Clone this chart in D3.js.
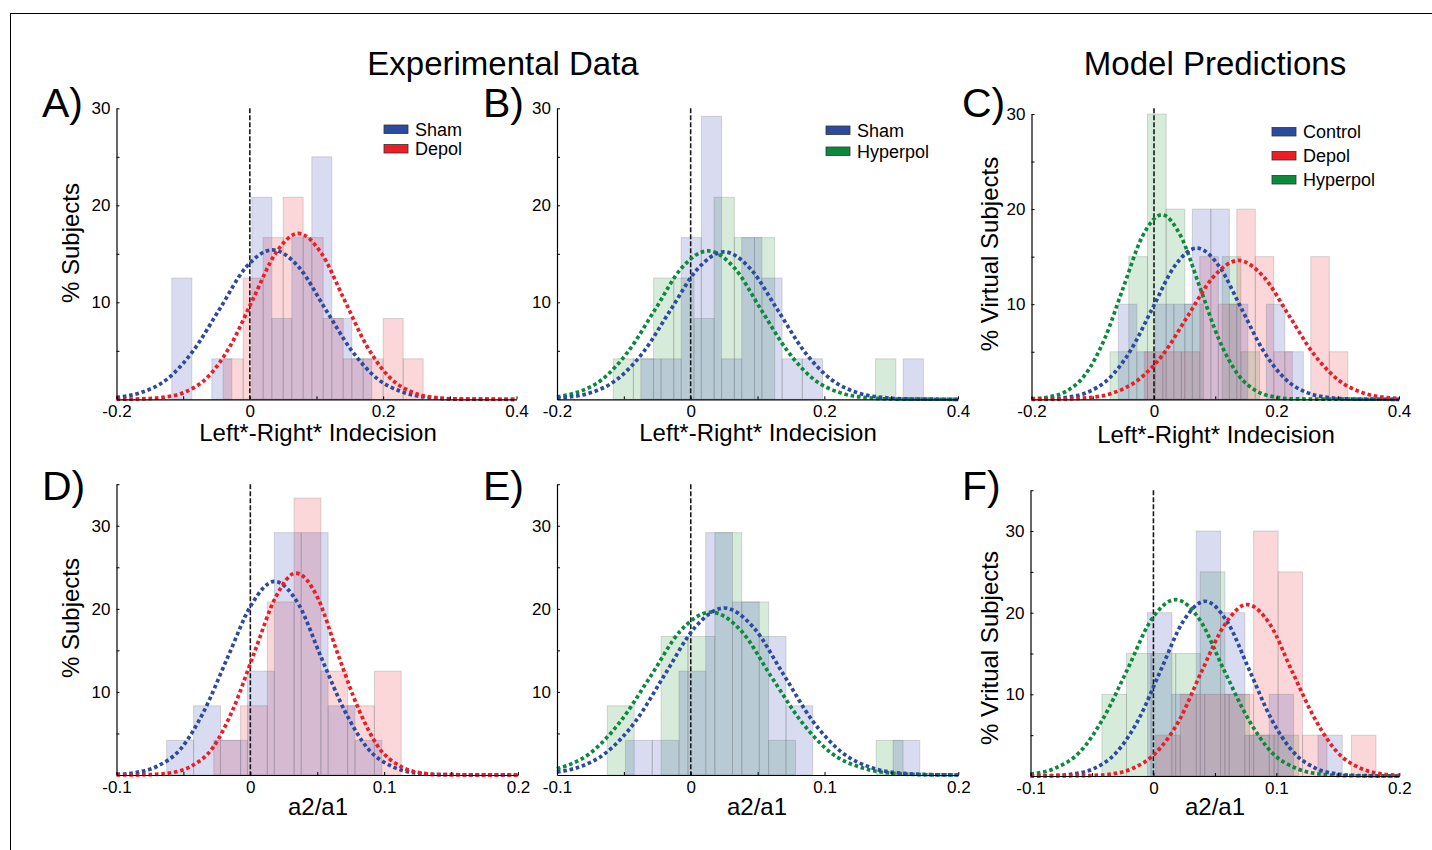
<!DOCTYPE html>
<html>
<head>
<meta charset="utf-8">
<script src="https://cdn.jsdelivr.net/npm/d3@7"></script>
<style>
  body { margin: 0; background: #fff; }
  svg { display: block; font-family: "Liberation Sans", Arial, Helvetica, sans-serif; }
</style>
</head>
<body>
<svg id="fig" width="1432" height="850"></svg>
<script>
// ---- tick values ----
const xMarksTop = [-0.2, -0.1, 0, 0.1, 0.2, 0.3, 0.4];
const xLabelsTop = [-0.2, 0, 0.2, 0.4];
const xMarksBottom = [-0.1, -0.05, 0, 0.05, 0.1, 0.15, 0.2];
const xLabelsBottom = [-0.1, 0, 0.1, 0.2];
const yMarksTop = [5, 10, 15, 20, 25, 30];
const yMarksBottom = [5, 10, 15, 20, 25, 30, 35];
const yLabels = [10, 20, 30];

// ---- histograms: [first bin edge, bin width] and % per bin ----
// A) Sham vs Depol, indecision
const aShamBin = [-0.117, 0.03];
const aShamPct = [12.5, 0, 4.17, 0, 20.83, 8.33, 16.67, 25, 8.33, 4.17];
const aDepolBin = [-0.04, 0.03];
const aDepolPct = [4.17, 12.5, 16.67, 20.83, 16.67, 8.33, 4.17, 4.17, 8.33, 4.17];
// B) Sham vs Hyperpol, indecision
const bShamBin = [-0.0746, 0.0302];
const bShamPct = [4.17, 4.17, 16.67, 29.17, 4.17, 16.67, 12.5, 4.17, 4.17, 0, 0, 0, 0, 4.17];
const bHyperBin = [-0.1159, 0.0302];
const bHyperPct = [4.17, 4.17, 12.5, 12.5, 8.33, 20.83, 16.67, 16.67, 0, 0, 0, 0, 0, 4.17];
// C) model, indecision
const cControlBin = [-0.0582, 0.0302];
const cControlPct = [10, 5, 10, 10, 20, 20, 10, 0, 10, 5];
const cDepolBin = [-0.0158, 0.0302];
const cDepolPct = [5, 5, 5, 15, 10, 20, 15, 5, 0, 15, 5];
const cHyperBin = [-0.0717, 0.0305];
const cHyperPct = [5, 15, 30, 20, 10, 0, 15, 5];
// D) Sham vs Depol, a2/a1
const dShamBin = [-0.0625, 0.0201];
const dShamPct = [4.17, 8.33, 4.17, 12.5, 29.17, 29.17, 8.33, 4.17];
const dDepolBin = [-0.0273, 0.02];
const dDepolPct = [4.17, 8.33, 20.83, 33.33, 12.5, 8.33, 12.5];
// E) Sham vs Hyperpol, a2/a1
const eShamBin = [-0.0488, 0.02];
const eShamPct = [4.17, 4.17, 12.5, 29.17, 20.83, 16.67, 8.33, 0, 0, 0, 4.17];
const eHyperBin = [-0.0624, 0.0201];
const eHyperPct = [8.33, 0, 16.67, 16.67, 29.17, 20.83, 4.17, 0, 0, 0, 4.17];
// F) model, a2/a1
const fControlBin = [-0.0048, 0.0198];
const fControlPct = [20, 10, 30, 20, 5, 10, 0, 5];
const fDepolBin = [0.0019, 0.0199];
const fDepolPct = [5, 10, 10, 10, 30, 25, 5, 0, 5];
const fHyperBin = [-0.0419, 0.02];
const fHyperPct = [10, 15, 15, 15, 25, 10, 5, 5];

// ---- fitted curves, points [x, %] ----
const aShamFit = [[-0.2,0.19],[-0.164,0.68],[-0.124,2.08],[-0.085,5.0],[-0.045,9.34],[-0.006,13.59],[0.034,15.4],[0.074,13.59],[0.113,9.34],[0.153,5.0],[0.192,2.08],[0.232,0.68],[0.271,0.17],[0.311,0.03],[0.4,0]];
const aDepolFit = [[-0.2,0],[-0.165,0.04],[-0.131,0.19],[-0.097,0.75],[-0.063,2.31],[-0.029,5.55],[0.005,10.37],[0.039,15.09],[0.073,17.1],[0.107,15.09],[0.141,10.37],[0.175,5.55],[0.209,2.31],[0.243,0.75],[0.277,0.19],[0.311,0.04],[0.4,0]];
const bShamFit = [[-0.2,0.12],[-0.15,0.67],[-0.11,2.06],[-0.07,4.94],[-0.03,9.22],[0.01,13.41],[0.05,15.2],[0.09,13.41],[0.13,9.22],[0.17,4.94],[0.21,2.06],[0.25,0.67],[0.29,0.17],[0.33,0.03],[0.4,0]];
const bHyperFit = [[-0.2,0.26],[-0.172,0.67],[-0.132,2.07],[-0.093,4.97],[-0.053,9.28],[-0.014,13.5],[0.026,15.3],[0.066,13.5],[0.105,9.28],[0.145,4.97],[0.184,2.07],[0.224,0.67],[0.263,0.17],[0.303,0.03],[0.4,0]];
const cControlFit = [[-0.2,0.01],[-0.182,0.03],[-0.146,0.18],[-0.11,0.7],[-0.074,2.15],[-0.038,5.16],[-0.002,9.64],[0.034,14.03],[0.07,15.9],[0.106,14.03],[0.142,9.64],[0.178,5.16],[0.214,2.15],[0.25,0.7],[0.286,0.18],[0.322,0.03],[0.4,0]];
const cDepolFit = [[-0.2,0],[-0.15,0.03],[-0.109,0.16],[-0.068,0.64],[-0.027,1.98],[0.015,4.74],[0.056,8.85],[0.097,12.88],[0.138,14.6],[0.179,12.88],[0.22,8.85],[0.261,4.74],[0.302,1.98],[0.343,0.64],[0.384,0.16],[0.4,0.09]];
const cHyperFit = [[-0.2,0.05],[-0.174,0.22],[-0.143,0.85],[-0.112,2.62],[-0.081,6.3],[-0.05,11.77],[-0.019,17.12],[0.013,19.4],[0.044,17.12],[0.075,11.77],[0.106,6.3],[0.137,2.62],[0.168,0.85],[0.199,0.22],[0.23,0.04],[0.4,0]];
const dShamFit = [[-0.1,0.08],[-0.087,0.26],[-0.07,1.02],[-0.052,3.15],[-0.035,7.57],[-0.017,14.13],[0.001,20.56],[0.018,23.3],[0.036,20.56],[0.053,14.13],[0.071,7.57],[0.088,3.15],[0.106,1.02],[0.123,0.26],[0.141,0.05],[0.2,0]];
const dDepolFit = [[-0.1,0],[-0.075,0.05],[-0.059,0.27],[-0.044,1.07],[-0.028,3.29],[-0.013,7.89],[0.003,14.74],[0.019,21.44],[0.034,24.3],[0.05,21.44],[0.065,14.74],[0.081,7.89],[0.096,3.29],[0.112,1.07],[0.127,0.27],[0.143,0.05],[0.2,0]];
const eShamFit = [[-0.1,0.36],[-0.085,0.88],[-0.063,2.72],[-0.041,6.53],[-0.019,12.19],[0.003,17.74],[0.025,20.1],[0.047,17.74],[0.069,12.19],[0.091,6.53],[0.113,2.72],[0.135,0.88],[0.157,0.22],[0.179,0.04],[0.2,0]];
const eHyperFit = [[-0.1,0.74],[-0.075,2.65],[-0.053,6.36],[-0.03,11.89],[-0.008,17.3],[0.015,19.6],[0.038,17.3],[0.06,11.89],[0.083,6.36],[0.105,2.65],[0.128,0.86],[0.15,0.22],[0.173,0.04],[0.2,0]];
const fControlFit = [[-0.1,0.01],[-0.084,0.05],[-0.066,0.24],[-0.048,0.94],[-0.03,2.9],[-0.012,6.95],[0.006,12.98],[0.024,18.89],[0.042,21.4],[0.06,18.89],[0.078,12.98],[0.096,6.95],[0.114,2.9],[0.132,0.94],[0.15,0.24],[0.168,0.05],[0.2,0]];
const fDepolFit = [[-0.1,0],[-0.054,0.05],[-0.035,0.23],[-0.017,0.92],[0.002,2.84],[0.021,6.82],[0.039,12.74],[0.058,18.53],[0.076,21.0],[0.095,18.53],[0.113,12.74],[0.132,6.82],[0.15,2.84],[0.169,0.92],[0.187,0.23],[0.2,0.08]];
const fHyperFit = [[-0.1,0.22],[-0.08,0.95],[-0.06,2.92],[-0.041,7.01],[-0.021,13.1],[-0.002,19.06],[0.018,21.6],[0.038,19.06],[0.057,13.1],[0.077,7.01],[0.096,2.92],[0.116,0.95],[0.135,0.24],[0.155,0.05],[0.2,0]];

// colours
const blue = "#2c4b9f", red = "#ee1c25", green = "#0b8a3e";
const blueFill = "rgb(55,64,182)", redFill = "rgb(232,40,52)", greenFill = "rgb(40,150,60)";

const indecision = "Left*-Right* Indecision";

// bars listed bottom-to-top: green, red, blue
const panels = [
  { label: "A)", lx: 42, ly: 117, box: [116.5, 516.5, 108.3, 399.3], xDomain: [-0.2, 0.4], yMax: 30, zeroTop: 30,
    xMarks: xMarksTop, xLabels: xLabelsTop, yMarks: yMarksTop,
    bars: [[aDepolBin, aDepolPct, redFill], [aShamBin, aShamPct, blueFill]],
    fits: [[aShamFit, blue], [aDepolFit, red]],
    legend: { x: 384, y: 125, gap: 19.5, items: [["Sham", blue], ["Depol", red]] },
    xTitle: indecision, xtX: 318, xtY: 441, yTitle: "% Subjects", ytX: 79, ytY: 243 },
  { label: "B)", lx: 483, ly: 117, box: [557, 958, 108.3, 399.3], xDomain: [-0.2, 0.4], yMax: 30, zeroTop: 30,
    xMarks: xMarksTop, xLabels: xLabelsTop, yMarks: yMarksTop,
    bars: [[bHyperBin, bHyperPct, greenFill], [bShamBin, bShamPct, blueFill]],
    fits: [[bHyperFit, green], [bShamFit, blue]],
    legend: { x: 826, y: 126, gap: 21, items: [["Sham", blue], ["Hyperpol", green]] },
    xTitle: indecision, xtX: 758, xtY: 441, yTitle: null },
  { label: "C)", lx: 962, ly: 117, box: [1031.5, 1399, 114, 399.3], xDomain: [-0.2, 0.4], yMax: 30, zeroTop: 30.6,
    xMarks: xMarksTop, xLabels: xLabelsTop, yMarks: yMarksTop,
    bars: [[cHyperBin, cHyperPct, greenFill], [cDepolBin, cDepolPct, redFill], [cControlBin, cControlPct, blueFill]],
    fits: [[cHyperFit, green], [cControlFit, blue], [cDepolFit, red]],
    legend: { x: 1272, y: 127.5, gap: 24, items: [["Control", blue], ["Depol", red], ["Hyperpol", green]] },
    xTitle: indecision, xtX: 1216, xtY: 443, yTitle: "% Virtual Subjects", ytX: 998, ytY: 254 },
  { label: "D)", lx: 42, ly: 500, box: [116.5, 518, 484.2, 775], xDomain: [-0.1, 0.2], yMax: 35, zeroTop: 35,
    xMarks: xMarksBottom, xLabels: xLabelsBottom, yMarks: yMarksBottom,
    bars: [[dDepolBin, dDepolPct, redFill], [dShamBin, dShamPct, blueFill]],
    fits: [[dShamFit, blue], [dDepolFit, red]],
    legend: null,
    xTitle: "a2/a1", xtX: 318, xtY: 815, yTitle: "% Subjects", ytX: 79, ytY: 618 },
  { label: "E)", lx: 483, ly: 500, box: [557, 958.3, 484.2, 775], xDomain: [-0.1, 0.2], yMax: 35, zeroTop: 35,
    xMarks: xMarksBottom, xLabels: xLabelsBottom, yMarks: yMarksBottom,
    bars: [[eHyperBin, eHyperPct, greenFill], [eShamBin, eShamPct, blueFill]],
    fits: [[eHyperFit, green], [eShamFit, blue]],
    legend: null,
    xTitle: "a2/a1", xtX: 757, xtY: 815, yTitle: null },
  { label: "F)", lx: 962, ly: 500, box: [1030.5, 1399.3, 490.2, 776], xDomain: [-0.1, 0.2], yMax: 35, zeroTop: 35,
    xMarks: xMarksBottom, xLabels: xLabelsBottom, yMarks: yMarksBottom,
    bars: [[fHyperBin, fHyperPct, greenFill], [fDepolBin, fDepolPct, redFill], [fControlBin, fControlPct, blueFill]],
    fits: [[fHyperFit, green], [fControlFit, blue], [fDepolFit, red]],
    legend: null,
    xTitle: "a2/a1", xtX: 1215, xtY: 815, yTitle: "% Vritual Subjects", ytX: 998, ytY: 648 }
];

const svg = d3.select("#fig");

// outer frame (top and left edges only)
svg.append("line").attr("x1", 10).attr("x2", 1432).attr("y1", 13.5).attr("y2", 13.5)
  .attr("stroke", "#000").attr("stroke-width", 1);
svg.append("line").attr("x1", 10.5).attr("x2", 10.5).attr("y1", 13).attr("y2", 850)
  .attr("stroke", "#000").attr("stroke-width", 1);

// column titles
svg.append("text").attr("x", 503).attr("y", 75).attr("text-anchor", "middle")
  .style("font-size", "33px").text("Experimental Data");
svg.append("text").attr("x", 1215).attr("y", 75).attr("text-anchor", "middle")
  .style("font-size", "33px").text("Model Predictions");

panels.forEach(p => {
  const [left, right, top, bottom] = p.box;
  const x = d3.scaleLinear().domain(p.xDomain).range([left, right]);
  const y = d3.scaleLinear().domain([0, p.yMax]).range([bottom, top]);
  const g = svg.append("g");

  // histogram bars
  p.bars.forEach(([bin, pct, fill]) => {
    const rows = pct.map((v, i) => ({ x0: bin[0] + i * bin[1], x1: bin[0] + (i + 1) * bin[1], v }))
      .filter(d => d.v > 0);
    g.append("g").selectAll("rect")
      .data(rows)
      .join("rect")
      .attr("x", d => x(d.x0))
      .attr("width", d => x(d.x1) - x(d.x0))
      .attr("y", d => y(d.v))
      .attr("height", d => y(0) - y(d.v))
      .attr("fill", fill)
      .attr("fill-opacity", 0.19)
      .attr("stroke", "#707070")
      .attr("stroke-opacity", 0.25)
      .attr("stroke-width", 1);
  });

  // zero line
  g.append("line")
    .attr("x1", x(0)).attr("x2", x(0))
    .attr("y1", y(p.zeroTop)).attr("y2", y(0))
    .attr("stroke", "#1a1a1a")
    .attr("stroke-width", 1.6)
    .attr("stroke-dasharray", "5 2");

  // fitted curves
  const line = d3.line().x(d => x(d[0])).y(d => y(d[1])).curve(d3.curveMonotoneX);
  p.fits.forEach(([pts, color]) => {
    g.append("path")
      .datum(pts)
      .attr("d", line)
      .attr("fill", "none")
      .attr("stroke", color)
      .attr("stroke-width", 3.7)
      .attr("stroke-dasharray", "3.6 2.8");
  });

  // axes
  const xAxis = g.append("g")
    .attr("transform", `translate(0,${bottom})`)
    .call(d3.axisBottom(x)
      .tickValues(p.xMarks)
      .tickSize(-3)
      .tickSizeOuter(0)
      .tickPadding(6)
      .tickFormat(v => p.xLabels.includes(v) ? String(v) : ""));
  const yAxis = g.append("g")
    .attr("transform", `translate(${left},0)`)
    .call(d3.axisLeft(y)
      .tickValues(p.yMarks)
      .tickSize(-3)
      .tickSizeOuter(0)
      .tickPadding(6)
      .tickFormat(v => yLabels.includes(v) ? String(v) : ""));
  [xAxis, yAxis].forEach(a => {
    a.attr("font-family", null).attr("font-size", null);
    a.selectAll("text").style("font-size", "17px").attr("fill", "#000");
    a.select(".domain").attr("stroke", "#000").attr("stroke-width", 1.2);
    a.selectAll(".tick line").attr("stroke", "#000");
  });

  // panel letter
  svg.append("text").attr("x", p.lx).attr("y", p.ly)
    .style("font-size", "41px").text(p.label);

  // axis titles
  svg.append("text").attr("x", p.xtX).attr("y", p.xtY).attr("text-anchor", "middle")
    .style("font-size", "24px").text(p.xTitle);
  if (p.yTitle) {
    svg.append("text")
      .attr("transform", `translate(${p.ytX},${p.ytY}) rotate(-90)`)
      .attr("text-anchor", "middle")
      .style("font-size", "24px")
      .text(p.yTitle);
  }

  // legend
  if (p.legend) {
    const lg = svg.append("g");
    p.legend.items.forEach(([name, color], i) => {
      const yy = p.legend.y + i * p.legend.gap;
      lg.append("rect")
        .attr("x", p.legend.x).attr("y", yy)
        .attr("width", 24).attr("height", 8.5)
        .attr("fill", color)
        .attr("stroke", "#333").attr("stroke-width", 0.8);
      lg.append("text")
        .attr("x", p.legend.x + 31).attr("y", yy + 10.5)
        .style("font-size", "18px")
        .text(name);
    });
  }
});
</script>
</body>
</html>
